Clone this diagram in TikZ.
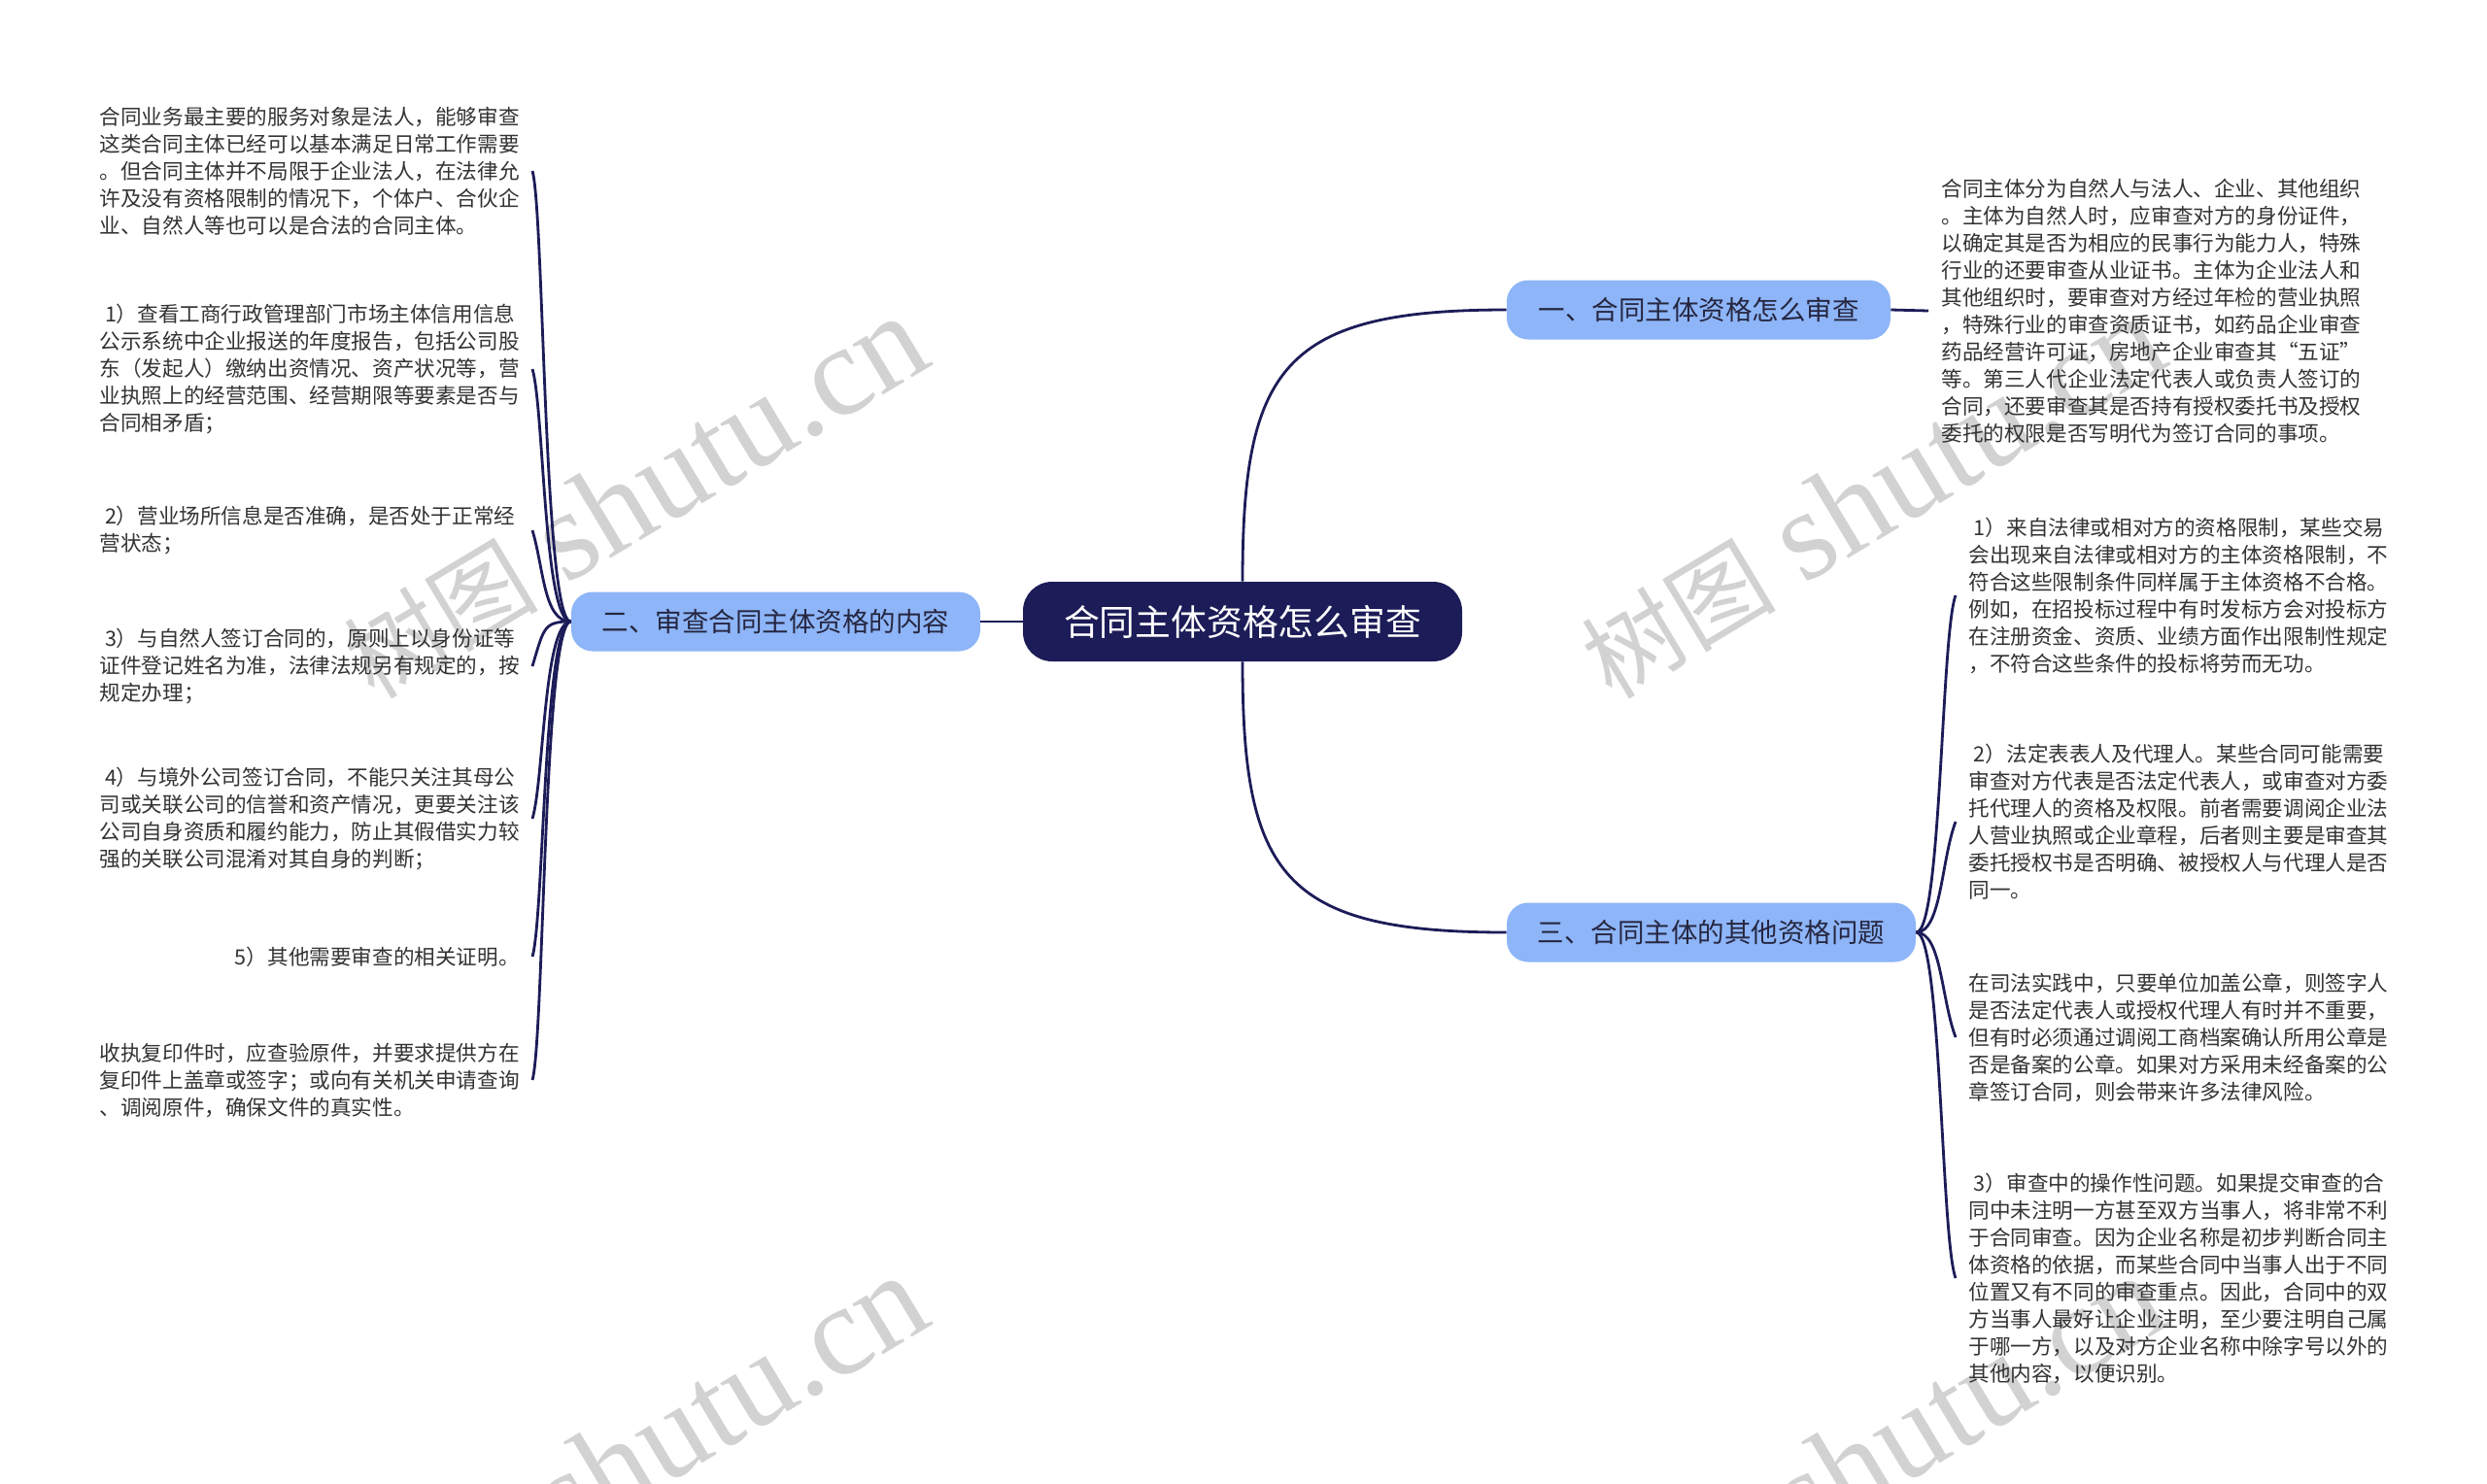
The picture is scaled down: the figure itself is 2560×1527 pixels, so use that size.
\documentclass[tikz,border=0pt]{standalone}
\usepackage{fontspec}
\setmainfont{Noto Sans CJK SC}
\newfontfamily\wmlatin{Liberation Serif}
\definecolor{navy}{HTML}{1C1C58}
\definecolor{branchblue}{HTML}{8DB5F8}
\definecolor{branchtext}{HTML}{262640}
\definecolor{leaftext}{HTML}{333333}
\definecolor{wmgray}{HTML}{D2D2D2}
\begin{document}
\begin{tikzpicture}[x=0.5pt,y=-0.5pt,
  rootbox/.style={fill=navy, text=white, rounded corners=15pt, minimum width=226pt, minimum height=41pt, inner sep=0pt, font=\fontsize{18.4pt}{22pt}\selectfont},
  branchbox/.style={fill=branchblue, text=branchtext, rounded corners=11pt, minimum height=30.5pt, inner sep=0pt, font=\fontsize{13.75pt}{16pt}\selectfont},
  leaf/.style={inner xsep=6.5pt, inner ysep=0pt, text width=216pt, align=left, text=leaftext, font=\fontsize{10.8pt}{14pt}\selectfont},
  link/.style={draw=navy, line width=1.4pt},
  wm/.style={rotate=31, text=wmgray, inner sep=0pt, font=\fontsize{66pt}{70pt}\selectfont}
]
\useasboundingbox (0,0) rectangle (2560,1527);
\fill[white] (0,0) rectangle (2560,1527);

% watermarks
\begin{scope}
\clip (0,0) rectangle (2560,1527);
\node[wm] (wmA) at (653,512) {{\fontsize{50pt}{50pt}\selectfont 树图}\hspace{15pt}{\wmlatin shutu.cn}};
\node[wm] (wmB) at (1927,512) {{\fontsize{50pt}{50pt}\selectfont 树图}\hspace{15pt}{\wmlatin shutu.cn}};
\node[wm] (wmC) at (653,1500) {{\fontsize{50pt}{50pt}\selectfont 树图}\hspace{15pt}{\wmlatin shutu.cn}};
\node[wm] (wmD) at (1927,1500) {{\fontsize{50pt}{50pt}\selectfont 树图}\hspace{15pt}{\wmlatin shutu.cn}};
\end{scope}

% main nodes
\node[rootbox] (root) at (1279,640) {合同主体资格怎么审查};
\node[branchbox, minimum width=197.5pt] (b1) at (1748.5,319) {一、合同主体资格怎么审查};
\node[branchbox, minimum width=210.5pt] (b2) at (798.5,640) {二、审查合同主体资格的内容};
\node[branchbox, minimum width=210.5pt] (b3) at (1761.5,960) {三、合同主体的其他资格问题};

% left leaves
\node[leaf, anchor=east] (L1) at (548,176) {合同业务最主要的服务对象是法人，能够审查\\这类合同主体已经可以基本满足日常工作需要\\。但合同主体并不局限于企业法人，在法律允\\许及没有资格限制的情况下，个体户、合伙企\\业、自然人等也可以是合法的合同主体。};
\node[leaf, anchor=east] (L2) at (548,380) {\hspace*{0.25em}1）查看工商行政管理部门市场主体信用信息\\公示系统中企业报送的年度报告，包括公司股\\东（发起人）缴纳出资情况、资产状况等，营\\业执照上的经营范围、经营期限等要素是否与\\合同相矛盾；};
\node[leaf, anchor=east] (L3) at (548,546) {\hspace*{0.25em}2）营业场所信息是否准确，是否处于正常经\\营状态；};
\node[leaf, anchor=east] (L4) at (548,686) {\hspace*{0.25em}3）与自然人签订合同的，原则上以身份证等\\证件登记姓名为准，法律法规另有规定的，按\\规定办理；};
\node[leaf, anchor=east] (L5) at (548,843) {\hspace*{0.25em}4）与境外公司签订合同，不能只关注其母公\\司或关联公司的信誉和资产情况，更要关注该\\公司自身资质和履约能力，防止其假借实力较\\强的关联公司混淆对其自身的判断；};
\node[leaf, anchor=east, align=right] (L6) at (548,985) {5）其他需要审查的相关证明。};
\node[leaf, anchor=east] (L7) at (548,1112) {收执复印件时，应查验原件，并要求提供方在\\复印件上盖章或签字；或向有关机关申请查询\\、调阅原件，确保文件的真实性。};

% right leaves
\node[leaf, anchor=west] (R0) at (1985,320) {合同主体分为自然人与法人、企业、其他组织\\。主体为自然人时，应审查对方的身份证件，\\以确定其是否为相应的民事行为能力人，特殊\\行业的还要审查从业证书。主体为企业法人和\\其他组织时，要审查对方经过年检的营业执照\\，特殊行业的审查资质证书，如药品企业审查\\药品经营许可证，房地产企业审查其“五证”\\等。第三人代企业法定代表人或负责人签订的\\合同，还要审查其是否持有授权委托书及授权\\委托的权限是否写明代为签订合同的事项。};
\node[leaf, anchor=west] (R1) at (2013,613) {\hspace*{0.25em}1）来自法律或相对方的资格限制，某些交易\\会出现来自法律或相对方的主体资格限制，不\\符合这些限制条件同样属于主体资格不合格。\\例如，在招投标过程中有时发标方会对投标方\\在注册资金、资质、业绩方面作出限制性规定\\，不符合这些条件的投标将劳而无功。};
\node[leaf, anchor=west] (R2) at (2013,846) {\hspace*{0.25em}2）法定表表人及代理人。某些合同可能需要\\审查对方代表是否法定代表人，或审查对方委\\托代理人的资格及权限。前者需要调阅企业法\\人营业执照或企业章程，后者则主要是审查其\\委托授权书是否明确、被授权人与代理人是否\\同一。};
\node[leaf, anchor=west] (R3) at (2013,1068) {在司法实践中，只要单位加盖公章，则签字人\\是否法定代表人或授权代理人有时并不重要，\\但有时必须通过调阅工商档案确认所用公章是\\否是备案的公章。如果对方采用未经备案的公\\章签订合同，则会带来许多法律风险。};
\node[leaf, anchor=west] (R4) at (2013,1316) {\hspace*{0.25em}3）审查中的操作性问题。如果提交审查的合\\同中未注明一方甚至双方当事人，将非常不利\\于合同审查。因为企业名称是初步判断合同主\\体资格的依据，而某些合同中当事人出于不同\\位置又有不同的审查重点。因此，合同中的双\\方当事人最好让企业注明，至少要注明自己属\\于哪一方，以及对方企业名称中除字号以外的\\其他内容，以便识别。};

% connectors root -> branches
\draw[link] (root.west) -- (b2.east);
\draw[link] (root.north) .. controls +(0,-219) and +(-231,0) .. (b1.west);
\draw[link] (root.south) .. controls +(0,219) and +(-231,0) .. (b3.west);

% branch 1 -> leaf
\draw[link] (b1.east) -- (R0.west);

% branch 2 -> left leaves
\draw[link] (b2.west) .. controls +(-28,0) and +(12,40) .. (L1.east);
\draw[link] (b2.west) .. controls +(-28,0) and +(12,40) .. (L2.east);
\draw[link] (b2.west) .. controls +(-28,0) and +(12,40) .. (L3.east);
\draw[link] (b2.west) .. controls +(-28,0) and +(12,-40) .. (L4.east);
\draw[link] (b2.west) .. controls +(-28,0) and +(12,-40) .. (L5.east);
\draw[link] (b2.west) .. controls +(-28,0) and +(12,-40) .. (L6.east);
\draw[link] (b2.west) .. controls +(-28,0) and +(12,-40) .. (L7.east);

% branch 3 -> right leaves
\draw[link] (b3.east) .. controls +(26,0) and +(-15,40) .. (R1.west);
\draw[link] (b3.east) .. controls +(26,0) and +(-15,40) .. (R2.west);
\draw[link] (b3.east) .. controls +(26,0) and +(-15,-40) .. (R3.west);
\draw[link] (b3.east) .. controls +(26,0) and +(-15,-40) .. (R4.west);
\end{tikzpicture}
\end{document}
